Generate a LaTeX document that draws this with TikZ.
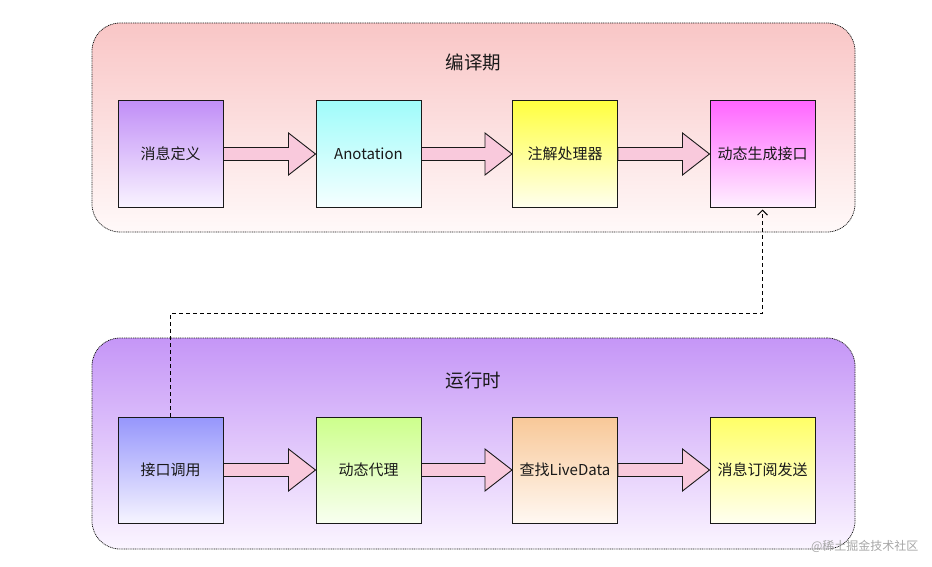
\documentclass[tikz,border=0pt]{standalone}
\usepackage{fontspec}
\setmainfont{Noto Sans CJK SC}
\usetikzlibrary{arrows.meta,calc}
\definecolor{arrowpink}{HTML}{F9C9DC}
\begin{document}
\begin{tikzpicture}[x=1pt,y=-1pt,
  container/.style={draw=black!90, line width=0.75pt, dash pattern=on 1pt off 0.8pt,
    rounded corners=28pt, minimum width=763pt, minimum height=209pt, shading=axis, inner sep=0pt},
  title/.style={font=\fontsize{18.5}{20}\selectfont, text=black!90},
  stepbox/.style={draw=black!90, line width=1pt, minimum width=105pt, minimum height=106pt,
    inner sep=0pt, shading=axis, font=\fontsize{15}{17}\selectfont, text=black!90},
  blockarrow/.style={draw=black!90, line width=0.9pt, fill=arrowpink, line join=miter},
  link/.style={draw=black, line width=0.9pt, dash pattern=on 4pt off 3pt}
]
\useasboundingbox (0,0) rectangle (932,567);

% containers
\node[container, top color={rgb,255:red,249;green,198;blue,198}, bottom color={rgb,255:red,255;green,249;blue,249}] (ctop) at (473.5,127.5) {};
\node[container, minimum height=211pt, top color={rgb,255:red,197;green,150;blue,247}, bottom color={rgb,255:red,251;green,245;blue,255}] (cbot) at (473.5,443.5) {};
\node[title] (ttop) at (473.5,62) {编译期};
\node[title] (tbot) at (473.5,380) {运行时};

% top row
\node[stepbox, top color={rgb,255:red,193;green,143;blue,247}, bottom color={rgb,255:red,249;green,243;blue,255}] (a1) at (170.5,154) {消息定义};
\node[stepbox, top color={rgb,255:red,160;green,252;blue,250}, bottom color={rgb,255:red,245;green,255;blue,255}] (a2) at (368.5,154) {Anotation};
\node[stepbox, top color={rgb,255:red,255;green,255;blue,64}, bottom color={rgb,255:red,255;green,255;blue,238}] (a3) at (565,154) {注解处理器};
\node[stepbox, top color={rgb,255:red,255;green,102;blue,255}, bottom color={rgb,255:red,255;green,240;blue,255}] (a4) at (762.5,154) {动态生成接口};

% bottom row
\node[stepbox, top color={rgb,255:red,150;green,150;blue,252}, bottom color={rgb,255:red,246;green,244;blue,255}] (b1) at (170.5,470) {接口调用};
\node[stepbox, top color={rgb,255:red,205;green,255;blue,140}, bottom color={rgb,255:red,248;green,255;blue,240}] (b2) at (368.5,470) {动态代理};
\node[stepbox, top color={rgb,255:red,248;green,200;blue,152}, bottom color={rgb,255:red,255;green,248;blue,242}] (b3) at (565,470) {查找LiveData};
\node[stepbox, top color={rgb,255:red,255;green,255;blue,102}, bottom color={rgb,255:red,255;green,255;blue,240}] (b4) at (762.5,470) {消息订阅发送};

% block arrows
\foreach \s/\t in {a1/a2,a2/a3,a3/a4,b1/b2,b2/b3,b3/b4}{
  \draw[blockarrow] ($(\s.east)+(0,-6.5)$) -- ($(\t.west)+(-27,-6.5)$) -- ($(\t.west)+(-27,-21)$)
    -- (\t.west) -- ($(\t.west)+(-27,21)$) -- ($(\t.west)+(-27,6.5)$) -- ($(\s.east)+(0,6.5)$) -- cycle;
}

% dashed link
\coordinate (bend1) at (170.5,313);
\coordinate (bend2) at (762.5,313);
\draw[link, -{Straight Barb[length=5pt,width=10pt]}] (b1.north) -- (bend1) -- (bend2) -- ($(a4.south)+(0,2)$);

% watermark
\node[font=\fontsize{12}{14}\selectfont, text=black!35, anchor=east] (wm) at (922,546) {@稀土掘金技术社区};
\end{tikzpicture}
\end{document}
